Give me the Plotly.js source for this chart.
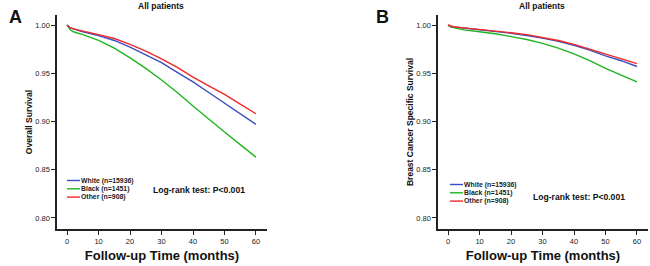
<!DOCTYPE html>
<html>
<head>
<meta charset="utf-8">
<script src="https://cdn.plot.ly/plotly-3.0.1.min.js"></script>
<style>html,body{margin:0;padding:0;background:#fff;}#chart{width:650px;height:266px;}</style>
</head>
<body>
<div id="chart"></div>
<script>
// Follow-up months
const months = [0, 1, 2, 5, 10, 15, 20, 25, 30, 35, 40, 45, 50, 55, 60];

// Panel A: Overall survival
const osWhite = [1.000, 0.997, 0.996, 0.993, 0.989, 0.984, 0.977, 0.969, 0.961, 0.951, 0.941, 0.930, 0.919, 0.908, 0.897];
const osBlack = [1.000, 0.995, 0.993, 0.990, 0.984, 0.976, 0.966, 0.955, 0.943, 0.930, 0.916, 0.902, 0.889, 0.876, 0.863];
const osOther = [1.000, 0.997, 0.996, 0.994, 0.990, 0.986, 0.980, 0.973, 0.965, 0.956, 0.946, 0.937, 0.928, 0.918, 0.908];

// Panel B: Breast cancer specific survival
const bcssWhite = [1.000, 0.998, 0.998, 0.997, 0.995, 0.9935, 0.9915, 0.989, 0.9865, 0.983, 0.979, 0.974, 0.968, 0.963, 0.957];
const bcssBlack = [1.000, 0.998, 0.997, 0.995, 0.993, 0.991, 0.988, 0.985, 0.981, 0.976, 0.970, 0.963, 0.955, 0.948, 0.941];
const bcssOther = [1.000, 0.999, 0.998, 0.997, 0.9955, 0.994, 0.992, 0.990, 0.987, 0.984, 0.980, 0.975, 0.970, 0.965, 0.960];

const groupLabels = ["White (n=15936)", "Black (n=1451)", "Other (n=908)"];
const groupColors = ["#3a4fbf", "#1fb51f", "#f02828"];

const xTicks = [0, 10, 20, 30, 40, 50, 60];
const yTicks = [0.80, 0.85, 0.90, 0.95, 1.00];
const yTickText = ["0.80", "0.85", "0.90", "0.95", "1.00"];

const panelTitles = ["All patients", "All patients"];
const panelLetters = ["A", "B"];
const yTitles = ["Overall Survival", "Breast Cancer Specific Survival"];
const xTitle = "Follow-up Time (months)";
const testText = "Log-rank test: P<0.001";

const FONT = "Liberation Sans, Arial, sans-serif";

const seriesA = [osWhite, osBlack, osOther];
const seriesB = [bcssWhite, bcssBlack, bcssOther];

const traces = [];
seriesA.forEach((ys, i) => traces.push({
  x: months, y: ys, type: "scatter", mode: "lines", name: groupLabels[i],
  line: {color: groupColors[i], width: 1.4}, xaxis: "x", yaxis: "y", showlegend: false
}));
seriesB.forEach((ys, i) => traces.push({
  x: months, y: ys, type: "scatter", mode: "lines", name: groupLabels[i],
  line: {color: groupColors[i], width: 1.4}, xaxis: "x2", yaxis: "y2", showlegend: false
}));

const W = 650, H = 266;
const px = v => v / W, py = v => 1 - v / H;

function xaxisDef(d0, d1, anchor) {
  return {
    domain: [px(d0), px(d1)], anchor: anchor, range: [-3.2, 63.5],
    tickvals: xTicks, ticktext: xTicks.map(String),
    ticks: "outside", ticklen: 4, tickwidth: 1, tickcolor: "#222",
    showline: true, linecolor: "#222", linewidth: 1.6,
    showgrid: false, zeroline: false,
    tickfont: {family: FONT, size: 7.5, color: "#222"},
    title: {text: xTitle, font: {family: FONT, size: 13, color: "#111", weight: "bold"}, standoff: 6}
  };
}
function yaxisDef(anchor, title) {
  return {
    domain: [py(229), py(15)], anchor: anchor, range: [0.7885, 1.0104],
    tickvals: yTicks, ticktext: yTickText,
    ticks: "outside", ticklen: 4, tickwidth: 1, tickcolor: "#222",
    showline: true, linecolor: "#222", linewidth: 1.6,
    showgrid: false, zeroline: false,
    tickfont: {family: FONT, size: 7.5, color: "#222"},
    title: {text: title, font: {family: FONT, size: 8.5, color: "#111", weight: "bold"}, standoff: 1}
  };
}

const annotations = [];
const shapes = [];
const panelCfg = [
  {titleX: 161, letterX: 10, letterY: 17, legX: 67, legY: [180.5, 188.8, 197.1], testX: 152, testY: 190},
  {titleX: 542, letterX: 377, letterY: 17, legX: 450, legY: [184.5, 192.8, 201.1], testX: 532, testY: 197}
];
panelCfg.forEach((c, p) => {
  annotations.push({xref: "paper", yref: "paper", x: px(c.titleX), y: py(6), xanchor: "center", yanchor: "middle",
    text: "<b>" + panelTitles[p] + "</b>", showarrow: false, font: {family: FONT, size: 8.5, color: "#111"}});
  annotations.push({xref: "paper", yref: "paper", x: px(c.letterX - 3), y: py(c.letterY), xanchor: "left", yanchor: "middle",
    text: "<b>" + panelLetters[p] + "</b>", showarrow: false, font: {family: FONT, size: 18, color: "#111"}});
  annotations.push({xref: "paper", yref: "paper", x: px(c.testX), y: py(c.testY), xanchor: "left", yanchor: "middle",
    text: "<b>" + testText + "</b>", showarrow: false, borderpad: 0, font: {family: FONT, size: 8.6, color: "#111"}});
  groupLabels.forEach((lab, i) => {
    shapes.push({type: "line", xref: "paper", yref: "paper",
      x0: px(c.legX), x1: px(c.legX + 13), y0: py(c.legY[i]), y1: py(c.legY[i]),
      line: {color: groupColors[i], width: 1.4}});
    annotations.push({xref: "paper", yref: "paper", x: px(c.legX + 13), y: py(c.legY[i]), xanchor: "left", yanchor: "middle",
      text: "<b>" + lab + "</b>", showarrow: false, borderpad: 0, font: {family: FONT, size: 6.9, color: "#222"}});
  });
});

const layout = {
  width: W, height: H,
  margin: {l: 0, r: 0, t: 0, b: 0},
  paper_bgcolor: "#fff", plot_bgcolor: "#fff",
  xaxis: xaxisDef(57, 267, "y"),
  yaxis: yaxisDef("x", yTitles[0]),
  xaxis2: xaxisDef(438, 648, "y2"),
  yaxis2: yaxisDef("x2", yTitles[1]),
  annotations: annotations,
  shapes: shapes,
  showlegend: false
};

Plotly.newPlot("chart", traces, layout, {displayModeBar: false, staticPlot: true});
</script>
</body>
</html>
